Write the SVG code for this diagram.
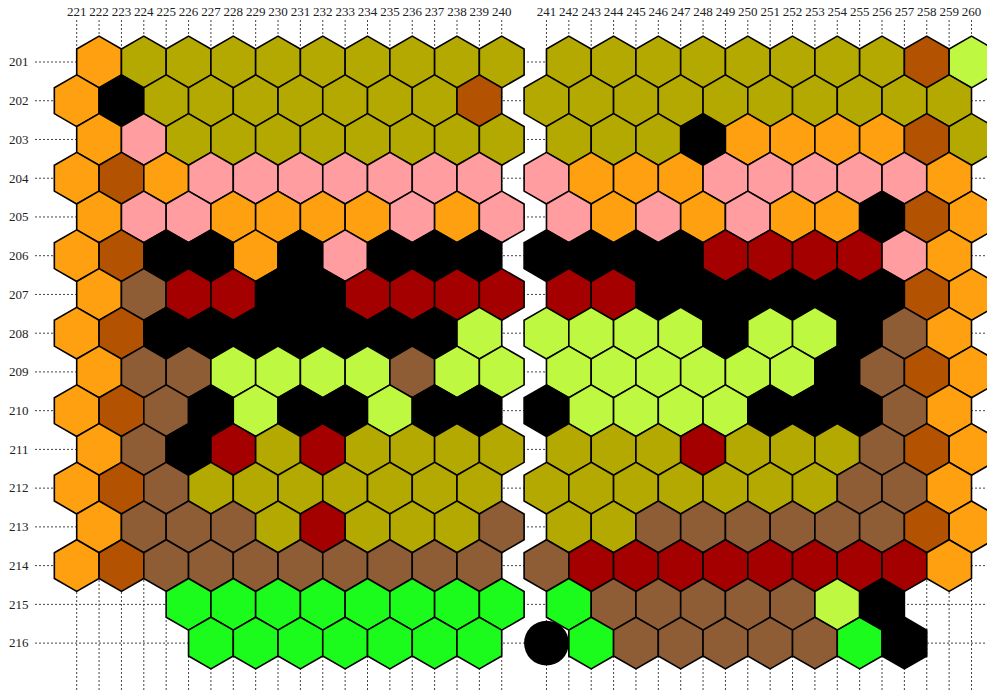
<svg xmlns="http://www.w3.org/2000/svg" xmlns:xlink="http://www.w3.org/1999/xlink" width="987" height="691" viewBox="0 0 987 691">
<style>
.o{fill:#FFA010}.v{fill:#B4A900}.p{fill:#FF9DA0}.d{fill:#B35200}.k{fill:#000}.r{fill:#A50000}.b{fill:#8F5D35}.l{fill:#BFF840}.g{fill:#1CFC1C}
use{stroke:#000;stroke-width:1.6;stroke-linejoin:miter}
.grid line{stroke:#444;stroke-width:1;stroke-dasharray:2 2}
text{font-family:"Liberation Serif","Times New Roman",serif;font-size:13px;fill:#222}
.cl text{text-anchor:middle}
.rl text{text-anchor:end}
</style>
<defs>
<path id="h" d="M0,-25.83L22.37,-12.92L22.37,12.92L0,25.83L-22.37,12.92L-22.37,-12.92Z"/>
</defs>
<rect width="987" height="691" fill="#fff"/>
<g class="grid" id="vlines">
<line x1="76.70" y1="20" x2="76.70" y2="691"/><line x1="99.07" y1="20" x2="99.07" y2="691"/><line x1="121.44" y1="20" x2="121.44" y2="691"/><line x1="143.81" y1="20" x2="143.81" y2="691"/><line x1="166.18" y1="20" x2="166.18" y2="691"/><line x1="188.55" y1="20" x2="188.55" y2="691"/><line x1="210.92" y1="20" x2="210.92" y2="691"/><line x1="233.29" y1="20" x2="233.29" y2="691"/><line x1="255.66" y1="20" x2="255.66" y2="691"/><line x1="278.03" y1="20" x2="278.03" y2="691"/><line x1="300.40" y1="20" x2="300.40" y2="691"/><line x1="322.77" y1="20" x2="322.77" y2="691"/><line x1="345.14" y1="20" x2="345.14" y2="691"/><line x1="367.51" y1="20" x2="367.51" y2="691"/><line x1="389.88" y1="20" x2="389.88" y2="691"/><line x1="412.25" y1="20" x2="412.25" y2="691"/><line x1="434.62" y1="20" x2="434.62" y2="691"/><line x1="456.99" y1="20" x2="456.99" y2="691"/><line x1="479.36" y1="20" x2="479.36" y2="691"/><line x1="501.73" y1="20" x2="501.73" y2="691"/>
<line x1="546.47" y1="20" x2="546.47" y2="691"/><line x1="568.84" y1="20" x2="568.84" y2="691"/><line x1="591.21" y1="20" x2="591.21" y2="691"/><line x1="613.58" y1="20" x2="613.58" y2="691"/><line x1="635.95" y1="20" x2="635.95" y2="691"/><line x1="658.32" y1="20" x2="658.32" y2="691"/><line x1="680.69" y1="20" x2="680.69" y2="691"/><line x1="703.06" y1="20" x2="703.06" y2="691"/><line x1="725.43" y1="20" x2="725.43" y2="691"/><line x1="747.80" y1="20" x2="747.80" y2="691"/><line x1="770.17" y1="20" x2="770.17" y2="691"/><line x1="792.54" y1="20" x2="792.54" y2="691"/><line x1="814.91" y1="20" x2="814.91" y2="691"/><line x1="837.28" y1="20" x2="837.28" y2="691"/><line x1="859.65" y1="20" x2="859.65" y2="691"/><line x1="882.02" y1="20" x2="882.02" y2="691"/><line x1="904.39" y1="20" x2="904.39" y2="691"/><line x1="926.76" y1="20" x2="926.76" y2="691"/><line x1="949.13" y1="20" x2="949.13" y2="691"/><line x1="971.50" y1="20" x2="971.50" y2="691"/>
</g>
<g class="grid" id="hlines">
<line x1="35" y1="62.00" x2="987" y2="62.00"/><line x1="35" y1="100.74" x2="987" y2="100.74"/><line x1="35" y1="139.48" x2="987" y2="139.48"/><line x1="35" y1="178.22" x2="987" y2="178.22"/><line x1="35" y1="216.96" x2="987" y2="216.96"/><line x1="35" y1="255.70" x2="987" y2="255.70"/><line x1="35" y1="294.44" x2="987" y2="294.44"/><line x1="35" y1="333.18" x2="987" y2="333.18"/><line x1="35" y1="371.92" x2="987" y2="371.92"/><line x1="35" y1="410.66" x2="987" y2="410.66"/><line x1="35" y1="449.40" x2="987" y2="449.40"/><line x1="35" y1="488.14" x2="987" y2="488.14"/><line x1="35" y1="526.88" x2="987" y2="526.88"/><line x1="35" y1="565.62" x2="987" y2="565.62"/><line x1="35" y1="604.36" x2="987" y2="604.36"/><line x1="35" y1="643.10" x2="987" y2="643.10"/>
</g>
<g class="cl" id="collabels">
<text x="76.70" y="16">221</text><text x="99.07" y="16">222</text><text x="121.44" y="16">223</text><text x="143.81" y="16">224</text><text x="166.18" y="16">225</text><text x="188.55" y="16">226</text><text x="210.92" y="16">227</text><text x="233.29" y="16">228</text><text x="255.66" y="16">229</text><text x="278.03" y="16">230</text><text x="300.40" y="16">231</text><text x="322.77" y="16">232</text><text x="345.14" y="16">233</text><text x="367.51" y="16">234</text><text x="389.88" y="16">235</text><text x="412.25" y="16">236</text><text x="434.62" y="16">237</text><text x="456.99" y="16">238</text><text x="479.36" y="16">239</text><text x="501.73" y="16">240</text>
<text x="546.47" y="16">241</text><text x="568.84" y="16">242</text><text x="591.21" y="16">243</text><text x="613.58" y="16">244</text><text x="635.95" y="16">245</text><text x="658.32" y="16">246</text><text x="680.69" y="16">247</text><text x="703.06" y="16">248</text><text x="725.43" y="16">249</text><text x="747.80" y="16">250</text><text x="770.17" y="16">251</text><text x="792.54" y="16">252</text><text x="814.91" y="16">253</text><text x="837.28" y="16">254</text><text x="859.65" y="16">255</text><text x="882.02" y="16">256</text><text x="904.39" y="16">257</text><text x="926.76" y="16">258</text><text x="949.13" y="16">259</text><text x="971.50" y="16">260</text>
</g>
<g class="rl" id="rowlabels">
<text x="28.5" y="66.3">201</text><text x="28.5" y="105.0">202</text><text x="28.5" y="143.8">203</text><text x="28.5" y="182.5">204</text><text x="28.5" y="221.3">205</text><text x="28.5" y="260.0">206</text><text x="28.5" y="298.7">207</text><text x="28.5" y="337.5">208</text><text x="28.5" y="376.2">209</text><text x="28.5" y="415.0">210</text><text x="28.5" y="453.7">211</text><text x="28.5" y="492.4">212</text><text x="28.5" y="531.2">213</text><text x="28.5" y="569.9">214</text><text x="28.5" y="608.7">215</text><text x="28.5" y="647.4">216</text>
</g>
<g id="row201" transform="translate(0,62.00)">
<use id="h201-222" href="#h" x="99.07" class="o"/><use id="h201-224" href="#h" x="143.81" class="v"/><use id="h201-226" href="#h" x="188.55" class="v"/><use id="h201-228" href="#h" x="233.29" class="v"/><use id="h201-230" href="#h" x="278.03" class="v"/><use id="h201-232" href="#h" x="322.77" class="v"/><use id="h201-234" href="#h" x="367.51" class="v"/><use id="h201-236" href="#h" x="412.25" class="v"/><use id="h201-238" href="#h" x="456.99" class="v"/><use id="h201-240" href="#h" x="501.73" class="v"/>
<use id="h201-242" href="#h" x="568.84" class="v"/><use id="h201-244" href="#h" x="613.58" class="v"/><use id="h201-246" href="#h" x="658.32" class="v"/><use id="h201-248" href="#h" x="703.06" class="v"/><use id="h201-250" href="#h" x="747.80" class="v"/><use id="h201-252" href="#h" x="792.54" class="v"/><use id="h201-254" href="#h" x="837.28" class="v"/><use id="h201-256" href="#h" x="882.02" class="v"/><use id="h201-258" href="#h" x="926.76" class="d"/><use id="h201-260" href="#h" x="971.50" class="l"/>
</g>
<g id="row202" transform="translate(0,100.74)">
<use id="h202-221" href="#h" x="76.70" class="o"/><use id="h202-223" href="#h" x="121.44" class="k"/><use id="h202-225" href="#h" x="166.18" class="v"/><use id="h202-227" href="#h" x="210.92" class="v"/><use id="h202-229" href="#h" x="255.66" class="v"/><use id="h202-231" href="#h" x="300.40" class="v"/><use id="h202-233" href="#h" x="345.14" class="v"/><use id="h202-235" href="#h" x="389.88" class="v"/><use id="h202-237" href="#h" x="434.62" class="v"/><use id="h202-239" href="#h" x="479.36" class="d"/>
<use id="h202-241" href="#h" x="546.47" class="v"/><use id="h202-243" href="#h" x="591.21" class="v"/><use id="h202-245" href="#h" x="635.95" class="v"/><use id="h202-247" href="#h" x="680.69" class="v"/><use id="h202-249" href="#h" x="725.43" class="v"/><use id="h202-251" href="#h" x="770.17" class="v"/><use id="h202-253" href="#h" x="814.91" class="v"/><use id="h202-255" href="#h" x="859.65" class="v"/><use id="h202-257" href="#h" x="904.39" class="v"/><use id="h202-259" href="#h" x="949.13" class="v"/>
</g>
<g id="row203" transform="translate(0,139.48)">
<use id="h203-222" href="#h" x="99.07" class="o"/><use id="h203-224" href="#h" x="143.81" class="p"/><use id="h203-226" href="#h" x="188.55" class="v"/><use id="h203-228" href="#h" x="233.29" class="v"/><use id="h203-230" href="#h" x="278.03" class="v"/><use id="h203-232" href="#h" x="322.77" class="v"/><use id="h203-234" href="#h" x="367.51" class="v"/><use id="h203-236" href="#h" x="412.25" class="v"/><use id="h203-238" href="#h" x="456.99" class="v"/><use id="h203-240" href="#h" x="501.73" class="v"/>
<use id="h203-242" href="#h" x="568.84" class="v"/><use id="h203-244" href="#h" x="613.58" class="v"/><use id="h203-246" href="#h" x="658.32" class="v"/><use id="h203-248" href="#h" x="703.06" class="k"/><use id="h203-250" href="#h" x="747.80" class="o"/><use id="h203-252" href="#h" x="792.54" class="o"/><use id="h203-254" href="#h" x="837.28" class="o"/><use id="h203-256" href="#h" x="882.02" class="o"/><use id="h203-258" href="#h" x="926.76" class="d"/><use id="h203-260" href="#h" x="971.50" class="v"/>
</g>
<g id="row204" transform="translate(0,178.22)">
<use id="h204-221" href="#h" x="76.70" class="o"/><use id="h204-223" href="#h" x="121.44" class="d"/><use id="h204-225" href="#h" x="166.18" class="o"/><use id="h204-227" href="#h" x="210.92" class="p"/><use id="h204-229" href="#h" x="255.66" class="p"/><use id="h204-231" href="#h" x="300.40" class="p"/><use id="h204-233" href="#h" x="345.14" class="p"/><use id="h204-235" href="#h" x="389.88" class="p"/><use id="h204-237" href="#h" x="434.62" class="p"/><use id="h204-239" href="#h" x="479.36" class="p"/>
<use id="h204-241" href="#h" x="546.47" class="p"/><use id="h204-243" href="#h" x="591.21" class="o"/><use id="h204-245" href="#h" x="635.95" class="o"/><use id="h204-247" href="#h" x="680.69" class="o"/><use id="h204-249" href="#h" x="725.43" class="p"/><use id="h204-251" href="#h" x="770.17" class="p"/><use id="h204-253" href="#h" x="814.91" class="p"/><use id="h204-255" href="#h" x="859.65" class="p"/><use id="h204-257" href="#h" x="904.39" class="p"/><use id="h204-259" href="#h" x="949.13" class="o"/>
</g>
<g id="row205" transform="translate(0,216.96)">
<use id="h205-222" href="#h" x="99.07" class="o"/><use id="h205-224" href="#h" x="143.81" class="p"/><use id="h205-226" href="#h" x="188.55" class="p"/><use id="h205-228" href="#h" x="233.29" class="o"/><use id="h205-230" href="#h" x="278.03" class="o"/><use id="h205-232" href="#h" x="322.77" class="o"/><use id="h205-234" href="#h" x="367.51" class="o"/><use id="h205-236" href="#h" x="412.25" class="p"/><use id="h205-238" href="#h" x="456.99" class="o"/><use id="h205-240" href="#h" x="501.73" class="p"/>
<use id="h205-242" href="#h" x="568.84" class="p"/><use id="h205-244" href="#h" x="613.58" class="o"/><use id="h205-246" href="#h" x="658.32" class="p"/><use id="h205-248" href="#h" x="703.06" class="o"/><use id="h205-250" href="#h" x="747.80" class="p"/><use id="h205-252" href="#h" x="792.54" class="o"/><use id="h205-254" href="#h" x="837.28" class="o"/><use id="h205-256" href="#h" x="882.02" class="k"/><use id="h205-258" href="#h" x="926.76" class="d"/><use id="h205-260" href="#h" x="971.50" class="o"/>
</g>
<g id="row206" transform="translate(0,255.70)">
<use id="h206-221" href="#h" x="76.70" class="o"/><use id="h206-223" href="#h" x="121.44" class="d"/><use id="h206-225" href="#h" x="166.18" class="k"/><use id="h206-227" href="#h" x="210.92" class="k"/><use id="h206-229" href="#h" x="255.66" class="o"/><use id="h206-231" href="#h" x="300.40" class="k"/><use id="h206-233" href="#h" x="345.14" class="p"/><use id="h206-235" href="#h" x="389.88" class="k"/><use id="h206-237" href="#h" x="434.62" class="k"/><use id="h206-239" href="#h" x="479.36" class="k"/>
<use id="h206-241" href="#h" x="546.47" class="k"/><use id="h206-243" href="#h" x="591.21" class="k"/><use id="h206-245" href="#h" x="635.95" class="k"/><use id="h206-247" href="#h" x="680.69" class="k"/><use id="h206-249" href="#h" x="725.43" class="r"/><use id="h206-251" href="#h" x="770.17" class="r"/><use id="h206-253" href="#h" x="814.91" class="r"/><use id="h206-255" href="#h" x="859.65" class="r"/><use id="h206-257" href="#h" x="904.39" class="p"/><use id="h206-259" href="#h" x="949.13" class="o"/>
</g>
<g id="row207" transform="translate(0,294.44)">
<use id="h207-222" href="#h" x="99.07" class="o"/><use id="h207-224" href="#h" x="143.81" class="b"/><use id="h207-226" href="#h" x="188.55" class="r"/><use id="h207-228" href="#h" x="233.29" class="r"/><use id="h207-230" href="#h" x="278.03" class="k"/><use id="h207-232" href="#h" x="322.77" class="k"/><use id="h207-234" href="#h" x="367.51" class="r"/><use id="h207-236" href="#h" x="412.25" class="r"/><use id="h207-238" href="#h" x="456.99" class="r"/><use id="h207-240" href="#h" x="501.73" class="r"/>
<use id="h207-242" href="#h" x="568.84" class="r"/><use id="h207-244" href="#h" x="613.58" class="r"/><use id="h207-246" href="#h" x="658.32" class="k"/><use id="h207-248" href="#h" x="703.06" class="k"/><use id="h207-250" href="#h" x="747.80" class="k"/><use id="h207-252" href="#h" x="792.54" class="k"/><use id="h207-254" href="#h" x="837.28" class="k"/><use id="h207-256" href="#h" x="882.02" class="k"/><use id="h207-258" href="#h" x="926.76" class="d"/><use id="h207-260" href="#h" x="971.50" class="o"/>
</g>
<g id="row208" transform="translate(0,333.18)">
<use id="h208-221" href="#h" x="76.70" class="o"/><use id="h208-223" href="#h" x="121.44" class="d"/><use id="h208-225" href="#h" x="166.18" class="k"/><use id="h208-227" href="#h" x="210.92" class="k"/><use id="h208-229" href="#h" x="255.66" class="k"/><use id="h208-231" href="#h" x="300.40" class="k"/><use id="h208-233" href="#h" x="345.14" class="k"/><use id="h208-235" href="#h" x="389.88" class="k"/><use id="h208-237" href="#h" x="434.62" class="k"/><use id="h208-239" href="#h" x="479.36" class="l"/>
<use id="h208-241" href="#h" x="546.47" class="l"/><use id="h208-243" href="#h" x="591.21" class="l"/><use id="h208-245" href="#h" x="635.95" class="l"/><use id="h208-247" href="#h" x="680.69" class="l"/><use id="h208-249" href="#h" x="725.43" class="k"/><use id="h208-251" href="#h" x="770.17" class="l"/><use id="h208-253" href="#h" x="814.91" class="l"/><use id="h208-255" href="#h" x="859.65" class="k"/><use id="h208-257" href="#h" x="904.39" class="b"/><use id="h208-259" href="#h" x="949.13" class="o"/>
</g>
<g id="row209" transform="translate(0,371.92)">
<use id="h209-222" href="#h" x="99.07" class="o"/><use id="h209-224" href="#h" x="143.81" class="b"/><use id="h209-226" href="#h" x="188.55" class="b"/><use id="h209-228" href="#h" x="233.29" class="l"/><use id="h209-230" href="#h" x="278.03" class="l"/><use id="h209-232" href="#h" x="322.77" class="l"/><use id="h209-234" href="#h" x="367.51" class="l"/><use id="h209-236" href="#h" x="412.25" class="b"/><use id="h209-238" href="#h" x="456.99" class="l"/><use id="h209-240" href="#h" x="501.73" class="l"/>
<use id="h209-242" href="#h" x="568.84" class="l"/><use id="h209-244" href="#h" x="613.58" class="l"/><use id="h209-246" href="#h" x="658.32" class="l"/><use id="h209-248" href="#h" x="703.06" class="l"/><use id="h209-250" href="#h" x="747.80" class="l"/><use id="h209-252" href="#h" x="792.54" class="l"/><use id="h209-254" href="#h" x="837.28" class="k"/><use id="h209-256" href="#h" x="882.02" class="b"/><use id="h209-258" href="#h" x="926.76" class="d"/><use id="h209-260" href="#h" x="971.50" class="o"/>
</g>
<g id="row210" transform="translate(0,410.66)">
<use id="h210-221" href="#h" x="76.70" class="o"/><use id="h210-223" href="#h" x="121.44" class="d"/><use id="h210-225" href="#h" x="166.18" class="b"/><use id="h210-227" href="#h" x="210.92" class="k"/><use id="h210-229" href="#h" x="255.66" class="l"/><use id="h210-231" href="#h" x="300.40" class="k"/><use id="h210-233" href="#h" x="345.14" class="k"/><use id="h210-235" href="#h" x="389.88" class="l"/><use id="h210-237" href="#h" x="434.62" class="k"/><use id="h210-239" href="#h" x="479.36" class="k"/>
<use id="h210-241" href="#h" x="546.47" class="k"/><use id="h210-243" href="#h" x="591.21" class="l"/><use id="h210-245" href="#h" x="635.95" class="l"/><use id="h210-247" href="#h" x="680.69" class="l"/><use id="h210-249" href="#h" x="725.43" class="l"/><use id="h210-251" href="#h" x="770.17" class="k"/><use id="h210-253" href="#h" x="814.91" class="k"/><use id="h210-255" href="#h" x="859.65" class="k"/><use id="h210-257" href="#h" x="904.39" class="b"/><use id="h210-259" href="#h" x="949.13" class="o"/>
</g>
<g id="row211" transform="translate(0,449.40)">
<use id="h211-222" href="#h" x="99.07" class="o"/><use id="h211-224" href="#h" x="143.81" class="b"/><use id="h211-226" href="#h" x="188.55" class="k"/><use id="h211-228" href="#h" x="233.29" class="r"/><use id="h211-230" href="#h" x="278.03" class="v"/><use id="h211-232" href="#h" x="322.77" class="r"/><use id="h211-234" href="#h" x="367.51" class="v"/><use id="h211-236" href="#h" x="412.25" class="v"/><use id="h211-238" href="#h" x="456.99" class="v"/><use id="h211-240" href="#h" x="501.73" class="v"/>
<use id="h211-242" href="#h" x="568.84" class="v"/><use id="h211-244" href="#h" x="613.58" class="v"/><use id="h211-246" href="#h" x="658.32" class="v"/><use id="h211-248" href="#h" x="703.06" class="r"/><use id="h211-250" href="#h" x="747.80" class="v"/><use id="h211-252" href="#h" x="792.54" class="v"/><use id="h211-254" href="#h" x="837.28" class="v"/><use id="h211-256" href="#h" x="882.02" class="b"/><use id="h211-258" href="#h" x="926.76" class="d"/><use id="h211-260" href="#h" x="971.50" class="o"/>
</g>
<g id="row212" transform="translate(0,488.14)">
<use id="h212-221" href="#h" x="76.70" class="o"/><use id="h212-223" href="#h" x="121.44" class="d"/><use id="h212-225" href="#h" x="166.18" class="b"/><use id="h212-227" href="#h" x="210.92" class="v"/><use id="h212-229" href="#h" x="255.66" class="v"/><use id="h212-231" href="#h" x="300.40" class="v"/><use id="h212-233" href="#h" x="345.14" class="v"/><use id="h212-235" href="#h" x="389.88" class="v"/><use id="h212-237" href="#h" x="434.62" class="v"/><use id="h212-239" href="#h" x="479.36" class="v"/>
<use id="h212-241" href="#h" x="546.47" class="v"/><use id="h212-243" href="#h" x="591.21" class="v"/><use id="h212-245" href="#h" x="635.95" class="v"/><use id="h212-247" href="#h" x="680.69" class="v"/><use id="h212-249" href="#h" x="725.43" class="v"/><use id="h212-251" href="#h" x="770.17" class="v"/><use id="h212-253" href="#h" x="814.91" class="v"/><use id="h212-255" href="#h" x="859.65" class="b"/><use id="h212-257" href="#h" x="904.39" class="b"/><use id="h212-259" href="#h" x="949.13" class="o"/>
</g>
<g id="row213" transform="translate(0,526.88)">
<use id="h213-222" href="#h" x="99.07" class="o"/><use id="h213-224" href="#h" x="143.81" class="b"/><use id="h213-226" href="#h" x="188.55" class="b"/><use id="h213-228" href="#h" x="233.29" class="b"/><use id="h213-230" href="#h" x="278.03" class="v"/><use id="h213-232" href="#h" x="322.77" class="r"/><use id="h213-234" href="#h" x="367.51" class="v"/><use id="h213-236" href="#h" x="412.25" class="v"/><use id="h213-238" href="#h" x="456.99" class="v"/><use id="h213-240" href="#h" x="501.73" class="b"/>
<use id="h213-242" href="#h" x="568.84" class="v"/><use id="h213-244" href="#h" x="613.58" class="v"/><use id="h213-246" href="#h" x="658.32" class="b"/><use id="h213-248" href="#h" x="703.06" class="b"/><use id="h213-250" href="#h" x="747.80" class="b"/><use id="h213-252" href="#h" x="792.54" class="b"/><use id="h213-254" href="#h" x="837.28" class="b"/><use id="h213-256" href="#h" x="882.02" class="b"/><use id="h213-258" href="#h" x="926.76" class="d"/><use id="h213-260" href="#h" x="971.50" class="o"/>
</g>
<g id="row214" transform="translate(0,565.62)">
<use id="h214-221" href="#h" x="76.70" class="o"/><use id="h214-223" href="#h" x="121.44" class="d"/><use id="h214-225" href="#h" x="166.18" class="b"/><use id="h214-227" href="#h" x="210.92" class="b"/><use id="h214-229" href="#h" x="255.66" class="b"/><use id="h214-231" href="#h" x="300.40" class="b"/><use id="h214-233" href="#h" x="345.14" class="b"/><use id="h214-235" href="#h" x="389.88" class="b"/><use id="h214-237" href="#h" x="434.62" class="b"/><use id="h214-239" href="#h" x="479.36" class="b"/>
<use id="h214-241" href="#h" x="546.47" class="b"/><use id="h214-243" href="#h" x="591.21" class="r"/><use id="h214-245" href="#h" x="635.95" class="r"/><use id="h214-247" href="#h" x="680.69" class="r"/><use id="h214-249" href="#h" x="725.43" class="r"/><use id="h214-251" href="#h" x="770.17" class="r"/><use id="h214-253" href="#h" x="814.91" class="r"/><use id="h214-255" href="#h" x="859.65" class="r"/><use id="h214-257" href="#h" x="904.39" class="r"/><use id="h214-259" href="#h" x="949.13" class="o"/>
</g>
<g id="row215" transform="translate(0,604.36)">
<use id="h215-226" href="#h" x="188.55" class="g"/><use id="h215-228" href="#h" x="233.29" class="g"/><use id="h215-230" href="#h" x="278.03" class="g"/><use id="h215-232" href="#h" x="322.77" class="g"/><use id="h215-234" href="#h" x="367.51" class="g"/><use id="h215-236" href="#h" x="412.25" class="g"/><use id="h215-238" href="#h" x="456.99" class="g"/><use id="h215-240" href="#h" x="501.73" class="g"/>
<use id="h215-242" href="#h" x="568.84" class="g"/><use id="h215-244" href="#h" x="613.58" class="b"/><use id="h215-246" href="#h" x="658.32" class="b"/><use id="h215-248" href="#h" x="703.06" class="b"/><use id="h215-250" href="#h" x="747.80" class="b"/><use id="h215-252" href="#h" x="792.54" class="b"/><use id="h215-254" href="#h" x="837.28" class="l"/><use id="h215-256" href="#h" x="882.02" class="k"/>
</g>
<g id="row216" transform="translate(0,643.10)">
<use id="h216-227" href="#h" x="210.92" class="g"/><use id="h216-229" href="#h" x="255.66" class="g"/><use id="h216-231" href="#h" x="300.40" class="g"/><use id="h216-233" href="#h" x="345.14" class="g"/><use id="h216-235" href="#h" x="389.88" class="g"/><use id="h216-237" href="#h" x="434.62" class="g"/><use id="h216-239" href="#h" x="479.36" class="g"/>
<circle id="c216-241" cx="546.47" cy="0" r="22.4" fill="#000"/>
<use id="h216-243" href="#h" x="591.21" class="g"/><use id="h216-245" href="#h" x="635.95" class="b"/><use id="h216-247" href="#h" x="680.69" class="b"/><use id="h216-249" href="#h" x="725.43" class="b"/><use id="h216-251" href="#h" x="770.17" class="b"/><use id="h216-253" href="#h" x="814.91" class="b"/><use id="h216-255" href="#h" x="859.65" class="g"/><use id="h216-257" href="#h" x="904.39" class="k"/>
</g>
</svg>
